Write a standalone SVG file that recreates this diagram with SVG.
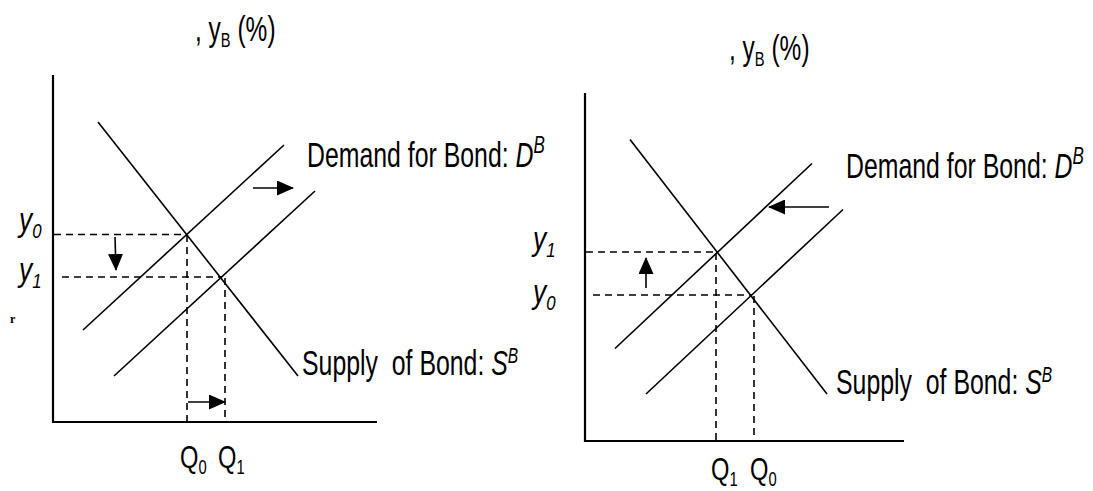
<svg xmlns="http://www.w3.org/2000/svg" width="1093" height="491" viewBox="0 0 1093 491">
  <style>
    .ax{stroke:#000;stroke-width:2.2;fill:none}
    .ln{stroke:#000;stroke-width:1.6;fill:none}
    .dash{stroke:#000;stroke-width:1.6;fill:none;stroke-dasharray:7 5}
    .arr{stroke:#000;stroke-width:1.6;fill:none;marker-end:url(#head)}
    .t{font-family:"Liberation Sans",Arial,sans-serif;fill:#000}
    .i{font-style:italic}
  </style>
  <defs>
    <marker id="head" markerUnits="userSpaceOnUse" viewBox="0 0 17 15" markerWidth="17" markerHeight="15" refX="16" refY="7.5" orient="auto">
      <path d="M0,0 L17,7.5 L0,15 Z" fill="#000"/>
    </marker>
  </defs>
  <rect width="1093" height="491" fill="#fff"/>

  <g id="left-chart">
    <g id="left-axes">
      <line class="ax" x1="53" y1="75" x2="53" y2="423"/>
      <line class="ax" x1="52" y1="422" x2="377" y2="422"/>
    </g>
    <g id="left-curves">
      <line class="ln" x1="98" y1="122" x2="298" y2="376"/>
      <line class="ln" x1="83" y1="330" x2="284" y2="145"/>
      <line class="ln" x1="114" y1="376" x2="315" y2="191"/>
    </g>
    <g id="left-guides">
      <line class="dash" x1="54" y1="234.5" x2="187" y2="234.5"/>
      <line class="dash" x1="62" y1="277" x2="222" y2="277"/>
      <line class="dash" x1="187" y1="235" x2="187" y2="421"/>
      <line class="dash" x1="225" y1="278" x2="225" y2="421"/>
    </g>
    <g id="left-arrows">
      <line class="arr" x1="115" y1="237" x2="116" y2="270"/>
      <line class="arr" x1="188" y1="402" x2="225" y2="402"/>
      <line class="arr" x1="253" y1="188" x2="293" y2="188"/>
    </g>
    <g id="left-labels">
      <text class="t" xml:space="preserve" font-size="35" transform="translate(195,41) scale(0.7,1)">, y<tspan font-size="21" dy="6">B</tspan><tspan dy="-6"> (%)</tspan></text>
      <text class="t" font-size="35" transform="translate(307,167) scale(0.71,1)">Demand for Bond: <tspan class="i">D</tspan><tspan class="i" font-size="24" dy="-14">B</tspan></text>
      <text class="t" xml:space="preserve" font-size="35" transform="translate(302,375) scale(0.71,1)">Supply  of Bond: <tspan class="i">S</tspan><tspan class="i" font-size="22" dy="-12">B</tspan></text>
      <text class="t i" font-size="33" transform="translate(19,231) scale(0.8,1)">y<tspan font-size="21" dy="7">0</tspan></text>
      <text class="t i" font-size="33" transform="translate(19,281) scale(0.8,1)">y<tspan font-size="21" dy="7">1</tspan></text>
      <text class="t" font-size="32" transform="translate(180,468) scale(0.74,1)">Q<tspan font-size="20" dy="6">0</tspan></text>
      <text class="t" font-size="32" transform="translate(218,468) scale(0.74,1)">Q<tspan font-size="20" dy="6">1</tspan></text>
      <text x="10" y="323" font-family="Liberation Serif" font-weight="bold" font-size="12">r</text>
    </g>
  </g>

  <g id="right-chart">
    <g id="right-axes">
      <line class="ax" x1="585" y1="93" x2="585" y2="442"/>
      <line class="ax" x1="584" y1="441" x2="904" y2="441"/>
    </g>
    <g id="right-curves">
      <line class="ln" x1="630" y1="139.5" x2="827" y2="394"/>
      <line class="ln" x1="615" y1="348.5" x2="812" y2="163.5"/>
      <line class="ln" x1="646" y1="394" x2="843" y2="209.5"/>
    </g>
    <g id="right-guides">
      <line class="dash" x1="586" y1="252" x2="717" y2="252"/>
      <line class="dash" x1="593" y1="295" x2="752" y2="295"/>
      <line class="dash" x1="716" y1="253" x2="716" y2="440"/>
      <line class="dash" x1="754" y1="296" x2="754" y2="440"/>
    </g>
    <g id="right-arrows">
      <line class="arr" x1="646" y1="288" x2="646" y2="258"/>
      <line class="arr" x1="829" y1="207" x2="769" y2="207"/>
    </g>
    <g id="right-labels">
      <text class="t" xml:space="preserve" font-size="35" transform="translate(729,60) scale(0.7,1)">, y<tspan font-size="21" dy="6">B</tspan><tspan dy="-6"> (%)</tspan></text>
      <text class="t" font-size="35" transform="translate(846,178) scale(0.71,1)">Demand for Bond: <tspan class="i">D</tspan><tspan class="i" font-size="24" dy="-14">B</tspan></text>
      <text class="t" xml:space="preserve" font-size="35" transform="translate(836,394) scale(0.71,1)">Supply  of Bond: <tspan class="i">S</tspan><tspan class="i" font-size="22" dy="-12">B</tspan></text>
      <text class="t i" font-size="33" transform="translate(533,250) scale(0.8,1)">y<tspan font-size="21" dy="7">1</tspan></text>
      <text class="t i" font-size="33" transform="translate(533,303) scale(0.8,1)">y<tspan font-size="21" dy="7">0</tspan></text>
      <text class="t" font-size="32" transform="translate(711,480) scale(0.74,1)">Q<tspan font-size="20" dy="6">1</tspan></text>
      <text class="t" font-size="32" transform="translate(750,480) scale(0.74,1)">Q<tspan font-size="20" dy="6">0</tspan></text>
    </g>
  </g>
</svg>
